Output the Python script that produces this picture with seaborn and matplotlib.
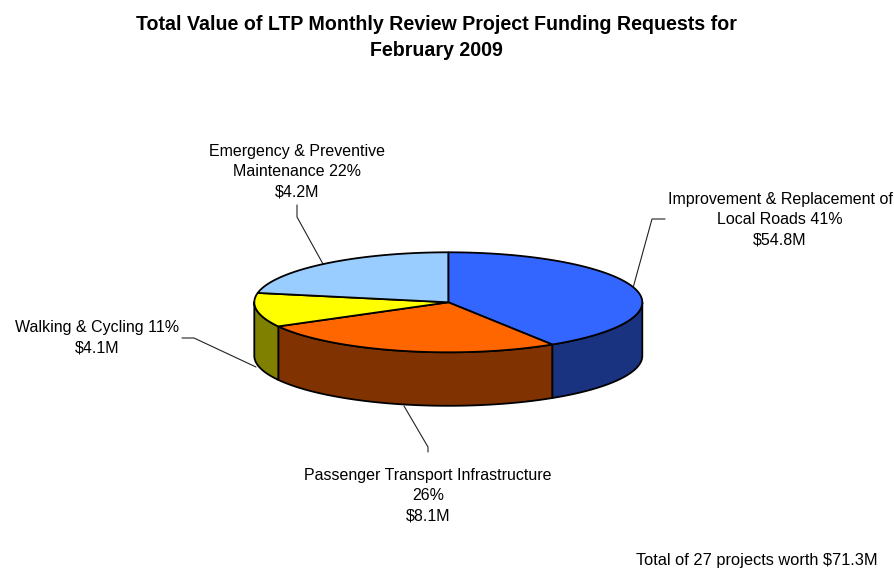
import numpy as np
import matplotlib
matplotlib.use("Agg")
import matplotlib.pyplot as plt
import seaborn as sns

# --- data (clockwise from 12 o'clock) ---
categories = ["Improvement & Replacement of\nLocal Roads", "Passenger Transport Infrastructure\n",
              "Walking & Cycling", "Emergency & Preventive\nMaintenance"]
shares = [41, 26, 11, 22]
amounts = ["$54.8M", "$8.1M", "$4.1M", "$4.2M"]
top_colors = ["#3366FF", "#FF6600", "#FFFF00", "#99CCFF"]
side_colors = ["#1A3380", "#803300", "#808000", "#4D6680"]
title = "Total Value of LTP Monthly Review Project Funding Requests for\nFebruary 2009"
footnote = "Total of 27 projects worth $71.3M"

# --- layout (pixels) ---
W, H = 895, 568
CX, CY, RX, RY, DEPTH = 448.3, 302.3, 194, 50, 53.5
LABEL_POS = [(780, 219.5), (428, 495.5), (97, 338), (297, 171.5)]
LEADERS = [([633, 652, 665], [288, 219, 219]),
           ([428, 428, 404], [452, 447, 406]),
           ([182, 194, 256], [338, 338, 367]),
           ([297, 297, 323], [205, 217, 264])]

sns.set_theme(style="white")
plt.rcParams["font.family"] = ["Liberation Sans", "DejaVu Sans"]
palette_top = sns.color_palette(top_colors)
palette_side = sns.color_palette(side_colors)

fig = plt.figure(figsize=(W / 100, H / 100), dpi=100, facecolor="white")
ax = fig.add_axes([0, 0, 1, 1])
ax.set_xlim(0, W)
ax.set_ylim(H, 0)
ax.axis("off")
sns.despine(ax=ax, left=True, bottom=True)


def rim(a0, a1, dy=0.0, n=120):
    t = np.radians(np.linspace(a0, a1, n))
    return CX + RX * np.sin(t), CY - RY * np.cos(t) + dy


edges = np.cumsum([0] + shares) / sum(shares) * 360
LW = 1.3

# side walls: visible only on the front half (90 deg .. 270 deg)
for i, (a0, a1) in enumerate(zip(edges[:-1], edges[1:])):
    lo, hi = max(a0, 90), min(a1, 270)
    if lo >= hi:
        continue
    x0, y0 = rim(lo, hi)
    x1, y1 = rim(lo, hi, DEPTH)
    ax.fill(np.r_[x0, x1[::-1]], np.r_[y0, y1[::-1]], facecolor=palette_side[i],
            edgecolor="black", lw=LW, joinstyle="round", zorder=2)

# top faces
for i, (a0, a1) in enumerate(zip(edges[:-1], edges[1:])):
    x, y = rim(a0, a1)
    ax.fill(np.r_[CX, x], np.r_[CY, y], facecolor=palette_top[i],
            edgecolor="black", lw=LW, joinstyle="round", zorder=3)

# labels and leaders
for cat, pct, amt, (lx, ly), (px, py) in zip(categories, shares, amounts, LABEL_POS, LEADERS):
    head = cat.rstrip("\n")
    if cat.endswith("\n"):
        txt = f"{head}\n{pct}%\n{amt}"
    else:
        txt = f"{head} {pct}%\n{amt}"
    ax.text(lx, ly, txt, ha="center", va="center", fontsize=11.5, color="black",
            linespacing=1.43, zorder=5)
    ax.plot(px, py, color="#222222", lw=0.8, zorder=1, solid_joinstyle="miter")

ax.text(436, 37.5, title, ha="center", va="center", fontsize=14.1, fontweight="bold",
        color="black", linespacing=1.45)
ax.text(636, 560, footnote, ha="left", va="center", fontsize=11.8, color="black")

fig.savefig("out.png", dpi=100, facecolor="white")
